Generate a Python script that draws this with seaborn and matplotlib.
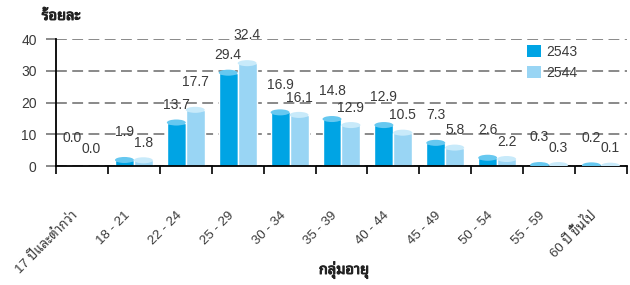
import matplotlib
matplotlib.use("Agg")
import matplotlib.pyplot as plt
from matplotlib.patches import Ellipse, Patch
from matplotlib.transforms import ScaledTranslation
import matplotlib.patheffects as pe
import seaborn as sns
import pandas as pd

age_groups = ["17 ปีและต่ำกว่า", "18 - 21", "22 - 24", "25 - 29", "30 - 34", "35 - 39",
              "40 - 44", "45 - 49", "50 - 54", "55 - 59", "60 ปี ขึ้นไป"]
years = ["2543", "2544"]
pct_2543 = [0.0, 1.9, 13.7, 29.4, 16.9, 14.8, 12.9, 7.3, 2.6, 0.3, 0.2]
pct_2544 = [0.0, 1.8, 17.7, 32.4, 16.1, 12.9, 10.5, 5.8, 2.2, 0.3, 0.1]
y_ticks = [0, 10, 20, 30, 40]

COLORS = ["#00A4E4", "#99D5F4"]
TOP_COLORS = ["#66C8F0", "#C8EAFA"]
TEXT = "#3a3a3a"

sns.set_theme(style="white")
plt.rcParams["font.family"] = ["Liberation Sans", "Noto Sans Thai Looped"]

df = pd.DataFrame({
    "group": age_groups * 2,
    "year": [years[0]] * len(age_groups) + [years[1]] * len(age_groups),
    "pct": pct_2543 + pct_2544,
})

fig = plt.figure(figsize=(6.3, 2.85), dpi=100)
ax = fig.add_axes([0.089, 0.4175, 0.906, 0.4455])
sns.barplot(data=df, x="group", y="pct", hue="year", palette=COLORS, width=0.73,
            saturation=1, ax=ax, legend=False)

# cylinder tops + value labels (taller bar of each pair gets the higher label)
series = [pct_2543, pct_2544]
for k, (cont, top) in enumerate(zip(ax.containers, TOP_COLORS)):
    other = series[1 - k]
    for bar, v, o in zip(cont, series[k], other):
        cx = bar.get_x() + bar.get_width() / 2
        if v > 0:
            ax.add_patch(Ellipse((cx, v), bar.get_width(), 1.9, facecolor=top,
                                 edgecolor="none", zorder=3))
        high = v > o or (v == o and k == 0)
        ax.annotate(f"{v:.1f}", (cx, v), xytext=(0, 20 if high else 12.5),
                    textcoords="offset points", ha="center", va="center",
                    fontsize=10, color=TEXT)

ax.set_ylim(0, 40)
ax.set_yticks(y_ticks)
ax.set_xlim(-0.5, len(age_groups) - 0.5)
ax.set_xticks(range(len(age_groups)), age_groups)
ax.set_xticks([i - 0.5 for i in range(len(age_groups) + 1)], minor=True)
ax.set_xlabel("")
ax.set_ylabel("")
ax.tick_params(axis="x", which="major", bottom=True, length=0, pad=34, labelsize=9.5,
               labelcolor=TEXT)
ax.tick_params(axis="x", which="minor", bottom=True, length=6, width=1.2, color="black",
               direction="out")
ax.tick_params(axis="y", left=True, length=7, width=1.3, color="#808080", direction="out",
               labelsize=10, labelcolor=TEXT, pad=7)
shift = ScaledTranslation(-6 / 100, 0, fig.dpi_scale_trans)
for lab in ax.get_xticklabels():
    lab.set_rotation(45)
    lab.set_ha("right")
    lab.set_va("center")
    lab.set_rotation_mode("anchor")
    lab.set_transform(lab.get_transform() + shift)

ax.set_axisbelow(True)
ax.yaxis.grid(True, color="#808080", linestyle=(0, (6, 3)), linewidth=1.3)
sns.despine(ax=ax)
for s in ["left", "bottom"]:
    ax.spines[s].set_color("black")
    ax.spines[s].set_linewidth(1.3)

handles = [Patch(facecolor=c, edgecolor="none") for c in COLORS]
ax.legend(handles, years, loc="upper left", bbox_to_anchor=(527 / 630, 1 - 45 / 285),
          bbox_transform=fig.transFigure, frameon=False, fontsize=10, borderpad=0,
          borderaxespad=0, handlelength=1.0, handleheight=1.0, handletextpad=0.4,
          labelspacing=0.5, labelcolor=TEXT)

bold = [pe.withStroke(linewidth=0.7, foreground="#222222")]
fig.text(61 / 630, 1 - 16 / 285, "ร้อยละ", ha="center", va="center", fontsize=10.5,
         color="#222222", path_effects=bold)
fig.text(344 / 630, 1 - 270 / 285, "กลุ่มอายุ", ha="center", va="center", fontsize=10.5,
         color="#222222", path_effects=bold)

fig.savefig("out.png", dpi=100)
